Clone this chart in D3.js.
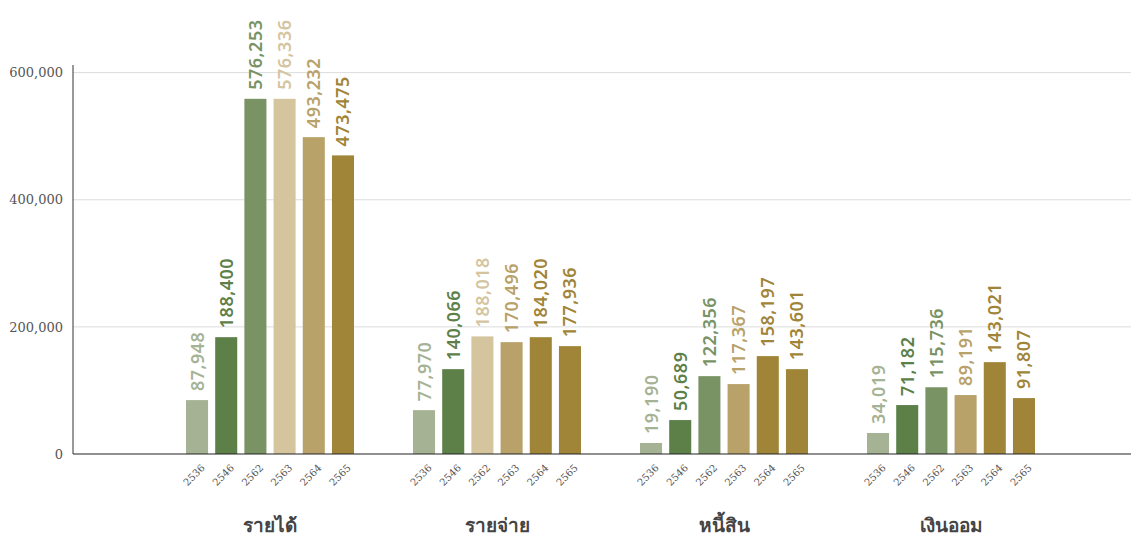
<!DOCTYPE html>
<html>
<head>
<meta charset="utf-8">
<script src="https://cdn.jsdelivr.net/npm/d3@7"></script>
<style>
  body { margin: 0; background: #fff; }
  svg text { font-family: "Noto Sans", "DejaVu Sans", sans-serif; }
</style>
</head>
<body>
<div id="chart"></div>
<script>
const groups = ["รายได้", "รายจ่าย", "หนี้สิน", "เงินออม"];
const years = ["2536", "2546", "2562", "2563", "2564", "2565"];

// bar heights as drawn
const incomeBars = [84800, 183800, 558800, 558800, 498500, 469800];
const expenseBars = [69000, 133500, 185000, 176000, 183800, 169700];
const debtBars = [17300, 53400, 122500, 110000, 154000, 133500];
const savingBars = [33000, 77000, 105000, 92700, 144500, 88000];

// numbers printed above the bars
const incomeLabels = [87948, 188400, 576253, 576336, 493232, 473475];
const expenseLabels = [77970, 140066, 188018, 170496, 184020, 177936];
const debtLabels = [19190, 50689, 122356, 117367, 158197, 143601];
const savingLabels = [34019, 71182, 115736, 89191, 143021, 91807];

const yTicks = [0, 200000, 400000, 600000];

const palette = ["#a6b294", "#5d8049", "#7a9365", "#d4c59f", "#b8a26a", "#a08538"];
const incomeColors = [0, 1, 2, 3, 4, 5];
const expenseColors = [0, 1, 3, 4, 5, 5];
const debtColors = [0, 1, 2, 4, 5, 5];
const savingColors = [0, 1, 2, 4, 5, 5];

const barSets = [incomeBars, expenseBars, debtBars, savingBars];
const labelSets = [incomeLabels, expenseLabels, debtLabels, savingLabels];
const colorSets = [incomeColors, expenseColors, debtColors, savingColors];

const width = 1131, height = 537;
const m = { l: 73, r: 1131, b: 454, t: 65 };

const svg = d3.select("#chart").append("svg")
  .attr("width", width).attr("height", height);

let xGroup = d3.scaleBand().domain(groups).range([156.5, 1064.5])
  .paddingInner(0.26).paddingOuter(0.13);
let xYear = d3.scaleBand().domain(years).range([0, xGroup.bandwidth()])
  .paddingInner(0.245).paddingOuter(0);
let yScale = d3.scaleLinear().domain([0, 612000]).range([m.b, m.t]);

// grid
svg.selectAll(".grid").data(yTicks.filter(d => d > 0)).join("line")
  .attr("class", "grid")
  .attr("x1", m.l).attr("x2", m.r)
  .attr("y1", d => yScale(d)).attr("y2", d => yScale(d))
  .attr("stroke", "#dcdcdc").attr("stroke-width", 1);

// y axis
let yAxis = d3.axisLeft(yScale).tickValues(yTicks).tickSize(0).tickPadding(10)
  .tickFormat(d3.format(","));
let yaxisg = svg.append("g").attr("transform", `translate(${m.l},0)`).call(yAxis);
yaxisg.select(".domain").attr("stroke", "#333").attr("d", `M0,${m.t}V${m.b}`);
yaxisg.selectAll("text").attr("font-size", 13).attr("fill", "#555")
  .style("font-family", "'DejaVu Serif', serif");

// bars
let rows = [];
groups.forEach((g, gi) => {
  years.forEach((yr, i) => {
    rows.push({ group: g, year: yr, bar: barSets[gi][i], label: labelSets[gi][i], color: palette[colorSets[gi][i]] });
  });
});

let plotg = svg.append("g");
plotg.selectAll(".bar").data(rows).join("rect")
  .attr("class", "bar")
  .attr("x", d => xGroup(d.group) + xYear(d.year))
  .attr("width", xYear.bandwidth())
  .attr("y", d => yScale(d.bar))
  .attr("height", d => m.b - yScale(d.bar))
  .attr("fill", d => d.color);

plotg.selectAll(".val").data(rows).join("text")
  .attr("class", "val")
  .attr("transform", d => `translate(${xGroup(d.group) + xYear(d.year) + xYear.bandwidth() / 2},${yScale(d.bar) - 9}) rotate(-90)`)
  .attr("dy", "0.36em")
  .attr("font-size", 18)
  .attr("font-weight", 600)
  .attr("letter-spacing", "0.5px")
  .attr("fill", d => d.color)
  .text(d => d3.format(",")(d.label));

// x axis line
svg.append("line").attr("x1", m.l).attr("x2", m.r)
  .attr("y1", m.b).attr("y2", m.b)
  .attr("stroke", "#222").attr("stroke-width", 1.2);

// year ticks
svg.selectAll(".yr").data(rows).join("text")
  .attr("class", "yr")
  .attr("transform", d => `translate(${xGroup(d.group) + xYear(d.year) + xYear.bandwidth() / 2 + 6},${m.b + 12}) rotate(-45)`)
  .attr("text-anchor", "end")
  .attr("dy", "0.35em")
  .attr("font-size", 10)
  .attr("fill", "#555")
  .style("font-family", "'DejaVu Serif', serif")
  .text(d => d.year);

// group labels
svg.selectAll(".grp").data(groups).join("text")
  .attr("class", "grp")
  .attr("x", d => xGroup(d) + xGroup.bandwidth() / 2)
  .attr("y", 532)
  .attr("text-anchor", "middle")
  .attr("font-size", 19)
  .attr("font-weight", 700)
  .attr("fill", "#444")
  .text(d => d);
</script>
</body>
</html>
